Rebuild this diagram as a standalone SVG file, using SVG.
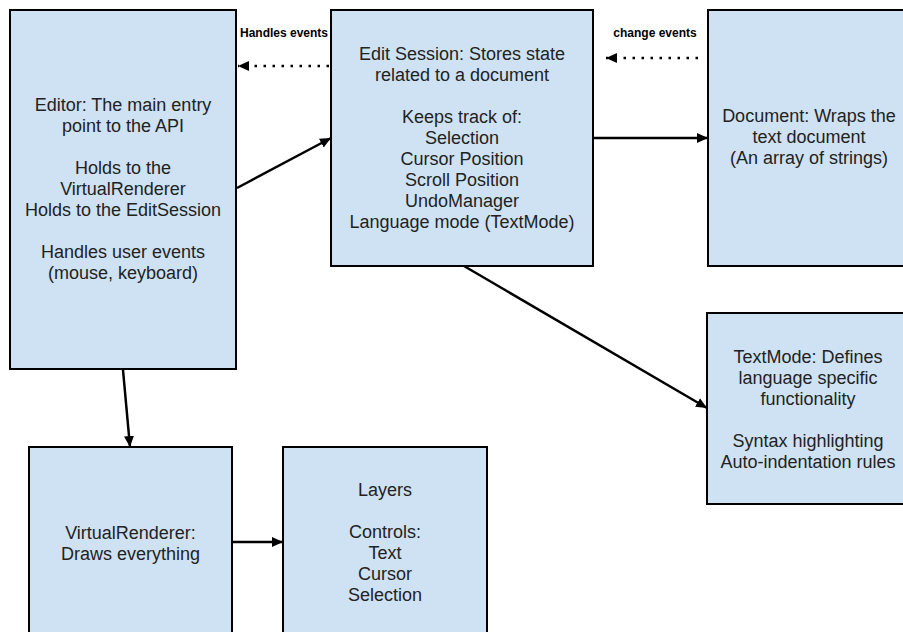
<svg xmlns="http://www.w3.org/2000/svg" width="903" height="632" viewBox="0 0 903 632">
<style>
.box{fill:#cfe2f3;stroke:#000;stroke-width:2}
.t{font-family:"Liberation Sans",Arial,sans-serif;font-size:18px;fill:#222;text-anchor:middle}
.lbl{font-family:"Liberation Sans",Arial,sans-serif;font-size:12px;font-weight:bold;fill:#000;text-anchor:middle}
.c{stroke:#000;stroke-width:2.5;fill:none}
.d{stroke:#000;stroke-width:2.5;fill:none;stroke-dasharray:2.5 6.5}
</style>
<defs>
<marker id="ah" markerUnits="userSpaceOnUse" markerWidth="12" markerHeight="10" refX="11" refY="5" orient="auto">
<path d="M0,0 L11,5 L0,10 z" fill="#000"/>
</marker>
</defs>
<rect width="903" height="632" fill="#fff"/>
<g id="editor">
<rect class="box" x="10" y="10" width="226" height="359"/>
<text class="t" x="123" y="111">Editor: The main entry</text>
<text class="t" x="123" y="132">point to the API</text>
<text class="t" x="123" y="174">Holds to the</text>
<text class="t" x="123" y="195">VirtualRenderer</text>
<text class="t" x="123" y="216">Holds to the EditSession</text>
<text class="t" x="123" y="258">Handles user events</text>
<text class="t" x="123" y="279">(mouse, keyboard)</text>
</g>
<g id="editsession">
<rect class="box" x="331" y="10" width="262" height="256"/>
<text class="t" x="462" y="60">Edit Session: Stores state</text>
<text class="t" x="462" y="81">related to a document</text>
<text class="t" x="462" y="123">Keeps track of:</text>
<text class="t" x="462" y="144">Selection</text>
<text class="t" x="462" y="165">Cursor Position</text>
<text class="t" x="462" y="186">Scroll Position</text>
<text class="t" x="462" y="207">UndoManager</text>
<text class="t" x="462" y="228">Language mode (TextMode)</text>
</g>
<g id="document">
<rect class="box" x="708" y="10" width="204" height="256"/>
<text class="t" x="809" y="122">Document: Wraps the</text>
<text class="t" x="809" y="143">text document</text>
<text class="t" x="809" y="164">(An array of strings)</text>
</g>
<g id="textmode">
<rect class="box" x="707" y="313" width="204" height="191"/>
<text class="t" x="808" y="363">TextMode: Defines</text>
<text class="t" x="808" y="384">language specific</text>
<text class="t" x="808" y="405">functionality</text>
<text class="t" x="808" y="447">Syntax highlighting</text>
<text class="t" x="808" y="468">Auto-indentation rules</text>
</g>
<g id="virtualrenderer">
<rect class="box" x="29" y="447" width="203" height="200"/>
<text class="t" x="130.5" y="539">VirtualRenderer:</text>
<text class="t" x="130.5" y="560">Draws everything</text>
</g>
<g id="layers">
<rect class="box" x="283" y="447" width="204" height="200"/>
<text class="t" x="385" y="496">Layers</text>
<text class="t" x="385" y="538">Controls:</text>
<text class="t" x="385" y="559">Text</text>
<text class="t" x="385" y="580">Cursor</text>
<text class="t" x="385" y="601">Selection</text>
</g>
<g id="connectors">
<line class="d" x1="329" y1="66" x2="238" y2="66" marker-end="url(#ah)"/>
<text class="lbl" x="284" y="37">Handles events</text>
<line class="d" x1="698" y1="58" x2="606" y2="58" marker-end="url(#ah)"/>
<text class="lbl" x="655" y="37">change events</text>
<line class="c" x1="237" y1="188" x2="331" y2="138" marker-end="url(#ah)"/>
<line class="c" x1="594" y1="138" x2="708" y2="138" marker-end="url(#ah)"/>
<line class="c" x1="464" y1="266" x2="707" y2="408" marker-end="url(#ah)"/>
<line class="c" x1="123" y1="370" x2="130" y2="447" marker-end="url(#ah)"/>
<line class="c" x1="233" y1="542" x2="283" y2="542" marker-end="url(#ah)"/>
</g>
</svg>
